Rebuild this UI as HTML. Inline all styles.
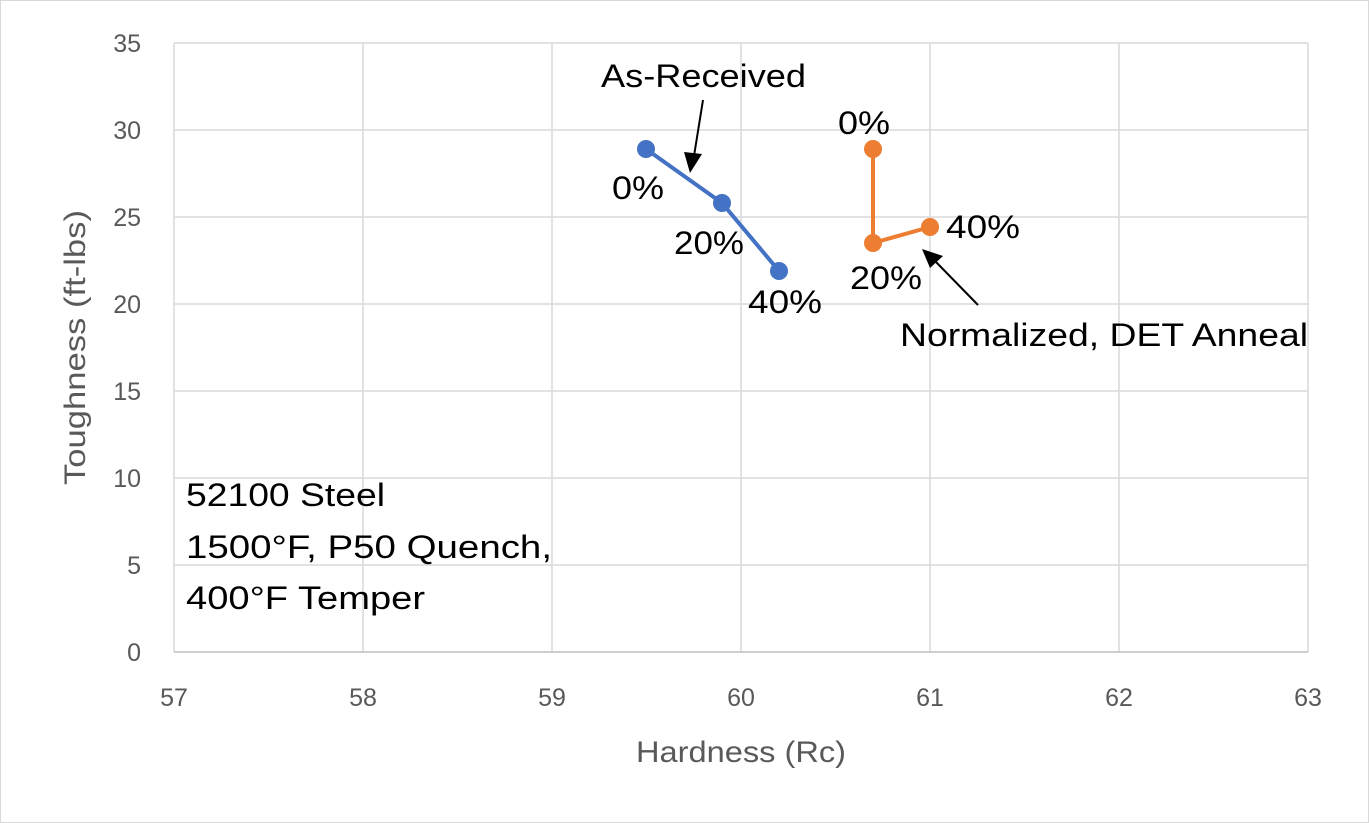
<!DOCTYPE html>
<html><head><meta charset="utf-8"><style>
html,body{margin:0;padding:0;background:#fff;}
svg{display:block;font-family:"Liberation Sans",sans-serif;}
</style></head><body>
<svg width="1369" height="823" viewBox="0 0 1369 823">
<rect x="0.5" y="0.5" width="1368" height="822" fill="#fff" stroke="#d9d9d9"/>
<g stroke="#d9d9d9" stroke-width="1.5">
<line x1="174" y1="43" x2="1308" y2="43"/>
<line x1="174" y1="130" x2="1308" y2="130"/>
<line x1="174" y1="217" x2="1308" y2="217"/>
<line x1="174" y1="304" x2="1308" y2="304"/>
<line x1="174" y1="391" x2="1308" y2="391"/>
<line x1="174" y1="478" x2="1308" y2="478"/>
<line x1="174" y1="565" x2="1308" y2="565"/>
<line x1="174" y1="43" x2="174" y2="652"/>
<line x1="363" y1="43" x2="363" y2="652"/>
<line x1="552" y1="43" x2="552" y2="652"/>
<line x1="741" y1="43" x2="741" y2="652"/>
<line x1="930" y1="43" x2="930" y2="652"/>
<line x1="1119" y1="43" x2="1119" y2="652"/>
<line x1="1308" y1="43" x2="1308" y2="652"/>
</g>
<line x1="174" y1="652" x2="1308" y2="652" stroke="#bfbfbf" stroke-width="1.5"/>
<g fill="#595959" font-size="25" text-anchor="end">
<text x="141" y="661">0</text><text x="141" y="574">5</text><text x="141" y="487">10</text>
<text x="141" y="400">15</text><text x="141" y="313">20</text><text x="141" y="226">25</text>
<text x="141" y="139">30</text><text x="141" y="52">35</text>
</g>
<g fill="#595959" font-size="25" text-anchor="middle">
<text x="174" y="706">57</text><text x="363" y="706">58</text><text x="552" y="706">59</text>
<text x="741" y="706">60</text><text x="930" y="706">61</text><text x="1119" y="706">62</text><text x="1308" y="706">63</text>
</g>
<text x="636" y="762" fill="#595959" font-size="30" textLength="210" lengthAdjust="spacingAndGlyphs">Hardness (Rc)</text>
<text transform="translate(85,485) rotate(-90)" fill="#595959" font-size="30" textLength="275" lengthAdjust="spacingAndGlyphs">Toughness (ft-lbs)</text>
<polyline points="646,149 722,203 779,271" fill="none" stroke="#4472c4" stroke-width="4"/>
<g fill="#4472c4"><circle cx="646" cy="149" r="9"/><circle cx="722" cy="203" r="9"/><circle cx="779" cy="271" r="9"/></g>
<polyline points="873,149 873,243 930,227" fill="none" stroke="#ed7d31" stroke-width="4"/>
<g fill="#ed7d31"><circle cx="873" cy="149" r="9"/><circle cx="873" cy="243" r="9"/><circle cx="930" cy="227" r="9"/></g>
<g fill="#000" font-size="32" lengthAdjust="spacingAndGlyphs">
<text x="601" y="87" textLength="205" lengthAdjust="spacingAndGlyphs">As-Received</text>
<text x="612" y="199" textLength="52" lengthAdjust="spacingAndGlyphs">0%</text>
<text x="674" y="254" textLength="70" lengthAdjust="spacingAndGlyphs">20%</text>
<text x="748" y="313" textLength="74" lengthAdjust="spacingAndGlyphs">40%</text>
<text x="838" y="134" textLength="52" lengthAdjust="spacingAndGlyphs">0%</text>
<text x="946" y="238" textLength="74" lengthAdjust="spacingAndGlyphs">40%</text>
<text x="850" y="289" textLength="72" lengthAdjust="spacingAndGlyphs">20%</text>
<text x="900" y="346" textLength="408" lengthAdjust="spacingAndGlyphs">Normalized, DET Anneal</text>
<text x="186" y="506" textLength="199" lengthAdjust="spacingAndGlyphs">52100 Steel</text>
<text x="186" y="558" textLength="366" lengthAdjust="spacingAndGlyphs">1500°F, P50 Quench,</text>
<text x="186" y="609" textLength="239" lengthAdjust="spacingAndGlyphs">400°F Temper</text>
</g>
<line x1="703" y1="100" x2="694" y2="156" stroke="#000" stroke-width="2"/>
<polygon points="684,152 702,154 690,173" fill="#000"/>
<line x1="978" y1="305" x2="936" y2="262" stroke="#000" stroke-width="2"/>
<polygon points="922,249 943,256 930,268" fill="#000"/>
</svg>
</body></html>
